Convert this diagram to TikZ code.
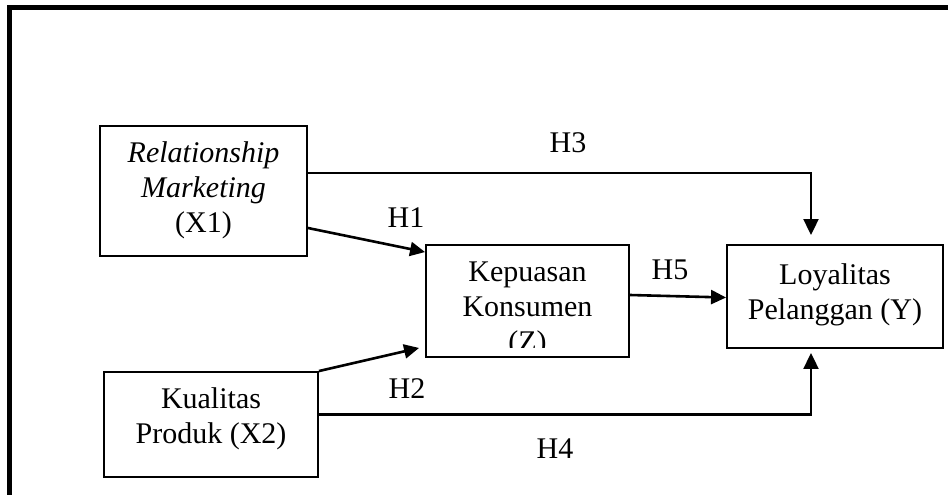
\documentclass[tikz,border=0pt]{standalone}
\usepackage{fontspec}
\setmainfont{Liberation Serif}
\usetikzlibrary{arrows.meta}
\begin{document}
\begin{tikzpicture}[x=1pt,y=-1pt,
  box/.style={draw=black, line width=1.9pt, inner sep=0pt, fill=none},
  txt/.style={anchor=base, inner sep=0pt, font=\fontsize{30}{35}\selectfont},
  lbl/.style={anchor=base, inner sep=0pt, font=\fontsize{30}{35}\selectfont},
  arr/.style={line width=2.6pt, -{Triangle[length=15pt,width=14pt]}},
  arrthin/.style={line width=2.1pt, -{Triangle[length=16pt,width=15pt]}}
]
\useasboundingbox (0,0) rectangle (948,495);
\fill[white] (0,0) rectangle (948,495);
% outer frame
\draw[line width=5pt, line join=miter] (9.5,495) -- (9.5,7.5) -- (948,7.5);

% boxes
\node[box, minimum width=207pt, minimum height=130pt] (x1) at (203.5,191) {};
\node[box, minimum width=203pt, minimum height=112pt] (z) at (527.5,301) {};
\node[box, minimum width=216pt, minimum height=103pt] (y) at (835,296.5) {};
\node[box, minimum width=214pt, minimum height=105pt] (x2) at (211,424.5) {};

% box texts
\node[txt] (x1a) at (203.5,162) {\itshape Relationship};
\node[txt] (x1b) at (203.5,197) {\itshape Marketing};
\node[txt] (x1c) at (203.5,232) {(X1)};
\node[txt] (za) at (527.5,281) {Kepuasan};
\node[txt] (zb) at (527.5,316) {Konsumen};
\begin{scope}
\clip (426,245) rectangle (629,347);
\node[txt] (zc) at (527.5,351) {(Z)};
\end{scope}
\node[txt] (ya) at (835,284) {Loyalitas};
\node[txt] (yb) at (835,319) {Pelanggan (Y)};
\node[txt] (x2a) at (211,408) {Kualitas};
\node[txt] (x2b) at (211,443) {Produk (X2)};

% hypothesis labels
\node[lbl] (h3) at (568,152) {H3};
\node[lbl] (h1) at (406,227) {H1};
\node[lbl] (h5) at (670,279) {H5};
\node[lbl] (h2) at (407,398) {H2};
\node[lbl] (h4) at (555,458) {H4};

% connector end points
\coordinate (h3end) at ([xshift=-24pt,yshift=9pt]y.north);
\coordinate (h4end) at ([xshift=-24pt,yshift=-4pt]y.south);

% connectors
\draw[arr] ([yshift=-37pt]x1.east) -- ([yshift=-8pt]z.north west);
\draw[arr] (x2.north east) -- ([xshift=-6pt,yshift=10pt]z.south west);
\draw[arr] ([yshift=6pt]z.east) -- ([yshift=-1pt]y.west);
\draw[arrthin] ([yshift=18pt]x1.east) -| (h3end);
\draw[arrthin] ([yshift=10pt]x2.east) -| (h4end);
\end{tikzpicture}
\end{document}
